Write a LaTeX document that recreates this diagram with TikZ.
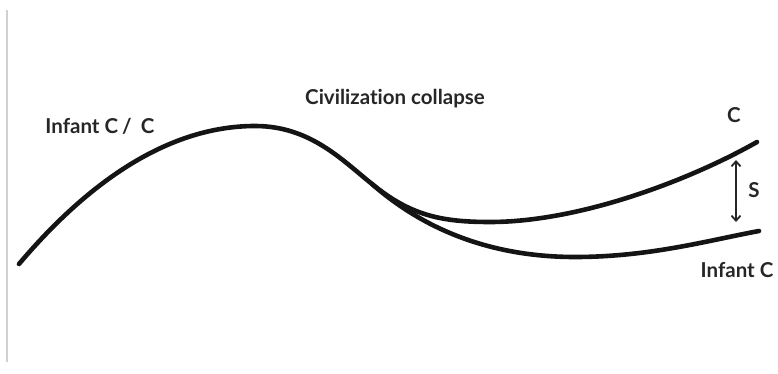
\documentclass[tikz,border=0pt]{standalone}
\usepackage{fontspec}
\setmainfont[Ligatures=NoCommon]{Lato}
\usetikzlibrary{arrows.meta}
\begin{document}
\begin{tikzpicture}[x=1pt,y=-1pt,
  curve/.style={line width=4.6pt,line cap=round,black!92},
  lbl/.style={font=\fontsize{20.5}{24}\selectfont\bfseries,text=black!85,inner sep=0pt},
  axisline/.style={line width=1.6pt,black!18}]
\useasboundingbox (0,0) rectangle (778,374);
\draw[axisline] (7,10) -- (7,362);
\coordinate (st) at (19,264);
\coordinate (pk) at (255,126);
\coordinate (sp) at (372,184);
\coordinate (um) at (490,222);
\coordinate (ue) at (757,142);
\coordinate (lm) at (575,257);
\coordinate (le) at (759,231);
\draw[curve] (st) .. controls (90,180) and (170,126) .. (pk)
  .. controls (310,126) and (342,160) .. (sp)
  .. controls (410,215) and (440,222) .. (um)
  .. controls (580,222) and (690,180) .. (ue);
\draw[curve] (sp) .. controls (430,235) and (500,257) .. (lm)
  .. controls (650,257) and (710,240) .. (le);
\node[lbl] (ic) at (100,126) {Infant C\hspace{0.2em}/\hspace{0.45em}C};
\node[lbl] (cc) at (395,99) {Civilization collapse};
\node[lbl] (c) at (734,115) {C};
\node[lbl] (s) at (754,190) {S};
\node[lbl] (ic2) at (737,270) {Infant C};
\coordinate (a1) at (736,160);
\coordinate (a2) at (736,222);
\draw[line width=1.8pt,black!85,{Straight Barb[length=5pt,width=9pt]}-{Straight Barb[length=5pt,width=9pt]}] (a1) -- (a2);
\end{tikzpicture}
\end{document}
